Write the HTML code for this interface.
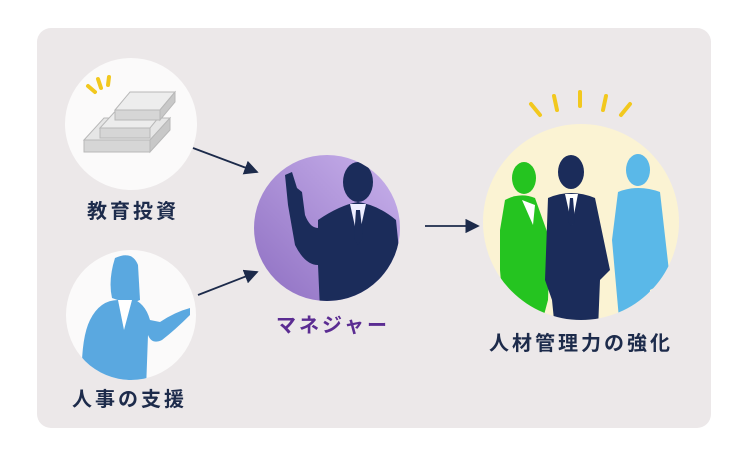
<!DOCTYPE html>
<html><head><meta charset="utf-8"><style>
body{margin:0;width:748px;height:468px;background:#fff;overflow:hidden;font-family:"Liberation Sans","Noto Sans CJK JP",sans-serif}
.t{position:absolute;font-weight:bold;font-size:20px;letter-spacing:3px;color:#1d2b4b;white-space:nowrap}
</style></head><body>
<div style="position:absolute;left:37px;top:28px;width:674px;height:400px;background:#ece8e9;border-radius:14px"></div>
<svg width="748" height="468" style="position:absolute;left:0;top:0">
<defs>
<linearGradient id="pg" x1="0" y1="1" x2="1" y2="0"><stop offset="0" stop-color="#8e6fc2"/><stop offset="1" stop-color="#c9b2ec"/></linearGradient>
<marker id="ar" markerWidth="8" markerHeight="8" refX="7" refY="4" orient="auto"><path d="M0,0 L8,4 L0,8 z" fill="#1c2a4a"/></marker>
<clipPath id="c1"><circle cx="131" cy="315" r="65"/></clipPath>
<clipPath id="c2"><circle cx="327" cy="228" r="73"/></clipPath>
<clipPath id="c3"><circle cx="581" cy="222" r="98"/></clipPath>
</defs>
<circle cx="131" cy="124" r="66" fill="#fbfafa"/>
<g stroke="#f2c81e" stroke-width="4" stroke-linecap="round"><line x1="88" y1="86" x2="95" y2="92"/><line x1="98" y1="79" x2="101" y2="88"/><line x1="109" y1="77" x2="108" y2="85"/></g>
<g fill="#d6d6d6" stroke="#b8b8b8" stroke-width="1">
<path d="M84 140 L150 140 L150 152 L84 152 z"/><path d="M84 140 L104 118 L170 118 L150 140 z" fill="#e6e6e6"/>
<path d="M150 140 L170 118 L170 130 L150 152z" fill="#c8c8c8"/>
<path d="M100 128 L150 128 L150 138 L100 138z"/><path d="M100 128 L120 106 L168 106 L150 128z" fill="#ececec"/>
<path d="M115 110 L160 110 L160 120 L115 120z"/><path d="M115 110 L130 92 L175 92 L160 110z" fill="#ededed"/>
<path d="M160 110 L175 92 L175 102 L160 120z" fill="#c8c8c8"/>
</g>
<circle cx="131" cy="315" r="65" fill="#fbfafa"/>
<g clip-path="url(#c1)" fill="#5aa8e0">
<path d="M115 258 Q132 250 138 265 L140 300 Q130 305 112 298 Q108 280 115 258z"/>
<path d="M90 320 Q100 300 118 300 L130 298 Q145 302 150 320 L160 322 Q175 312 190 308 L190 315 Q175 330 162 340 Q152 345 148 335 L146 390 L82 390 Q80 340 90 320z"/>
<path d="M118 300 L124 330 L132 300z" fill="#fff"/>
</g>
<circle cx="327" cy="228" r="73" fill="url(#pg)"/>
<g clip-path="url(#c2)" fill="#1b2c5a">
<ellipse cx="358" cy="182" rx="15" ry="20"/>
<path d="M318 220 Q340 205 358 202 Q378 205 396 220 L405 310 L320 310 L318 265 Q305 265 295 245 L288 205 L285 175 L292 172 L297 188 L302 192 L305 215 Q310 228 318 228z"/>
<path d="M350 204 L358 240 L366 204z" fill="#eef"/>
<path d="M356 210 L360 210 L363 238 L358 245 L354 238z"/>
</g>
<circle cx="581" cy="222" r="98" fill="#fbf3d3"/>
<g stroke="#f2c81e" stroke-width="4" stroke-linecap="round"><line x1="531" y1="104" x2="540" y2="115"/><line x1="554" y1="96" x2="557" y2="110"/><line x1="580" y1="92" x2="580" y2="106"/><line x1="606" y1="96" x2="603" y2="110"/><line x1="630" y1="104" x2="621" y2="115"/></g>
<g clip-path="url(#c3)">
<g fill="#5ab8e8"><ellipse cx="638" cy="170" rx="12" ry="16"/><path d="M618 192 Q638 184 660 192 L670 280 L650 290 L648 330 L620 330 L612 240z"/></g>
<g fill="#25c420"><ellipse cx="524" cy="178" rx="12" ry="16"/><path d="M505 200 Q520 192 535 198 L550 240 L548 300 L540 330 L505 330 L500 270 L500 230z"/><path d="M522 200 L533 225 L535 205z" fill="#fff"/></g>
<g fill="#1b2c5a"><ellipse cx="571" cy="172" rx="13" ry="17"/><path d="M548 198 Q571 188 595 198 L610 270 L600 280 L598 330 L555 330 L552 300 L545 280z"/><path d="M565 194 L572 225 L578 194z" fill="#fff"/><path d="M570 198 L573 198 L575 222 L571 226 L568 222z"/></g>
</g>
<g stroke="#1c2a4a" stroke-width="1.8" marker-end="url(#ar)"><line x1="193" y1="148" x2="257" y2="172"/><line x1="198" y1="295" x2="257" y2="272"/><line x1="425" y1="226" x2="478" y2="226"/></g>
</svg>
<div class="t" style="left:87px;top:195px">教育投資</div>
<div class="t" style="left:72px;top:383px">人事の支援</div>
<div class="t" style="left:276px;top:309px;color:#5b2c92">マネジャー</div>
<div class="t" style="left:489px;top:327px">人材管理力の強化</div>
</body></html>
